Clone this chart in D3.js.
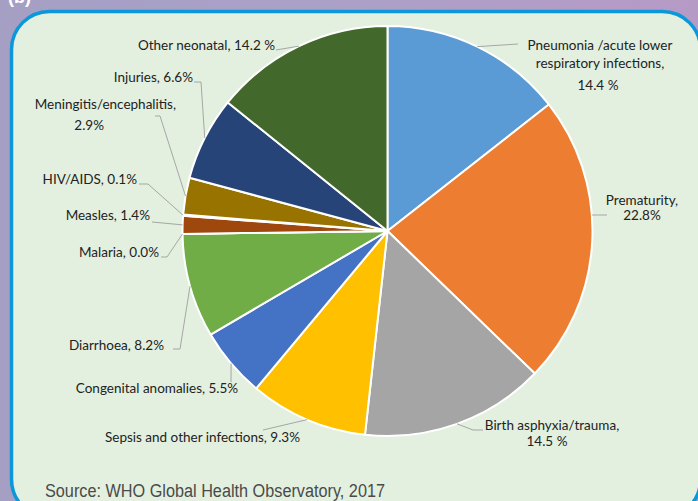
<!DOCTYPE html>
<html>
<head>
<meta charset="utf-8">
<script src="https://cdn.jsdelivr.net/npm/d3@7"></script>
<style>
  html, body { margin: 0; padding: 0; background: #a9a0c5; }
  svg { display: block; }
</style>
</head>
<body>
<div id="chart"></div>
<script>
// causes of neonatal death, share in %
const categories = [
  'Pneumonia/acute lower respiratory infections',
  'Prematurity',
  'Birth asphyxia/trauma',
  'Sepsis and other infections',
  'Congenital anomalies',
  'Diarrhoea',
  'Malaria',
  'Measles',
  'HIV/AIDS',
  'Meningitis/encephalitis',
  'Injuries',
  'Other neonatal',
];
const values = [14.4, 22.8, 14.5, 9.3, 5.5, 8.2, 0.0, 1.4, 0.1, 2.9, 6.6, 14.2];
const sliceColors = [
  '#5b9bd5', '#ed7d31', '#a5a5a5', '#ffc000', '#4472c4', '#70ad47',
  '#264478', '#9e480e', '#636363', '#997300', '#264478', '#43682b',
];
// label text, one entry per line
const labelText = [
  ['Pneumonia /acute lower', 'respiratory infections,', '14.4 %'],
  ['Prematurity,', '22.8%'],
  ['Birth asphyxia/trauma,', '14.5 %'],
  ['Sepsis and other infections, 9.3%'],
  ['Congenital anomalies,  5.5%'],
  ['Diarrhoea, 8.2%'],
  ['Malaria, 0.0%'],
  ['Measles, 1.4%'],
  ['HIV/AIDS, 0.1%'],
  ['Meningitis/encephalitis,', '2.9%'],
  ['Injuries, 6.6%'],
  ['Other neonatal, 14.2 %'],
];
const source = 'Source: WHO Global Health Observatory, 2017';

// label placement (layout only)
const labelPos = [
  { anchor: 'middle', x: [600, 600, 598], y: [50, 68, 90], leader: [[518, 44]] },
  { anchor: 'middle', x: [642, 642], y: [205, 220], leader: [[607, 215]], flat: true },
  { anchor: 'middle', x: [552, 547], y: [430, 446], leader: [[483, 430], [473, 430]] },
  { anchor: 'end', x: [300], y: [442], leader: [[263, 430]] },
  { anchor: 'middle', x: [157], y: [393], leader: [[231, 382]] },
  { anchor: 'end', x: [164], y: [350], leader: [[173, 349], [180, 349]] },
  { anchor: 'end', x: [159], y: [257], leader: [[161, 257], [167, 257]] },
  { anchor: 'end', x: [150], y: [220], leader: [[152, 222]] },
  { anchor: 'end', x: [137], y: [184], leader: [[139, 184], [148, 184]] },
  { anchor: 'end', x: [176, 104], y: [109, 130], leader: [[155, 116], [160, 116]] },
  { anchor: 'end', x: [193], y: [82], leader: [[194, 82], [201, 82]] },
  { anchor: 'end', x: [275], y: [50], leader: [[276, 50]] },
];

const width = 698, height = 501;
const cx = 387.5, cy = 231, R = 205;

const svg = d3.select('#chart').append('svg')
  .attr('width', width)
  .attr('height', height);

const defs = svg.append('defs');
const bg = defs.append('linearGradient').attr('id', 'bg')
  .attr('x1', 0).attr('y1', 0).attr('x2', 1).attr('y2', 0);
bg.append('stop').attr('offset', 0).attr('stop-color', '#a59fc4');
bg.append('stop').attr('offset', 0.45).attr('stop-color', '#aaa1c7');
bg.append('stop').attr('offset', 1).attr('stop-color', '#b69ac6');

svg.append('rect')
  .attr('width', width).attr('height', height)
  .attr('fill', 'url(#bg)');

// panel tag, mostly above the frame as in the original
svg.append('text')
  .attr('x', 8).attr('y', 3)
  .attr('fill', '#fff')
  .style('font', 'bold 18px "Liberation Sans", sans-serif')
  .text('(b)');

// panel
svg.append('rect')
  .attr('x', 11.5).attr('y', 11.5)
  .attr('width', 689).attr('height', 506)
  .attr('rx', 38).attr('ry', 38)
  .attr('fill', '#e3f0df')
  .attr('stroke', '#0a98da')
  .attr('stroke-width', 3.5);

const pie = d3.pie().sort(null).value((d) => d);
const arcs = pie(values);
const arc = d3.arc().innerRadius(0).outerRadius(R);

const g = svg.append('g').attr('transform', `translate(${cx},${cy})`);
g.selectAll('path.slice')
  .data(arcs)
  .join('path')
  .attr('class', 'slice')
  .attr('d', arc)
  .attr('fill', (d, i) => sliceColors[i])
  .attr('stroke', '#fff')
  .attr('stroke-width', 2)
  .attr('stroke-linejoin', 'round');

// leader lines
function edgePoint(d, i) {
  const pos = labelPos[i];
  if (pos.flat) {
    const y = pos.leader[0][1];
    return [cx + Math.sqrt(R * R - (y - cy) * (y - cy)), y];
  }
  const a = (d.startAngle + d.endAngle) / 2;
  return [cx + R * Math.sin(a), cy - R * Math.cos(a)];
}

const line = d3.line();
svg.append('g').selectAll('path')
  .data(arcs)
  .join('path')
  .attr('d', (d, i) => line(labelPos[i].leader.concat([edgePoint(d, i)])))
  .attr('fill', 'none')
  .attr('stroke', '#a6a6a6')
  .attr('stroke-width', 1);

// labels
const labels = svg.append('g')
  .style('font-family', 'Lato, "Open Sans", sans-serif')
  .style('font-size', '13.5px')
  .attr('fill', '#222');

labelText.forEach((lines, i) => {
  const pos = labelPos[i];
  lines.forEach((t, j) => {
    labels.append('text')
      .attr('x', pos.x[j])
      .attr('y', pos.y[j])
      .attr('text-anchor', pos.anchor)
      .text(t);
  });
});

svg.append('text')
  .attr('x', 45).attr('y', 497)
  .attr('fill', '#4a4a4a')
  .attr('textLength', 340)
  .attr('lengthAdjust', 'spacingAndGlyphs')
  .style('font-family', '"Liberation Sans Narrow", "Liberation Sans", sans-serif')
  .style('font-size', '18px')
  .text(source);
</script>
</body>
</html>
